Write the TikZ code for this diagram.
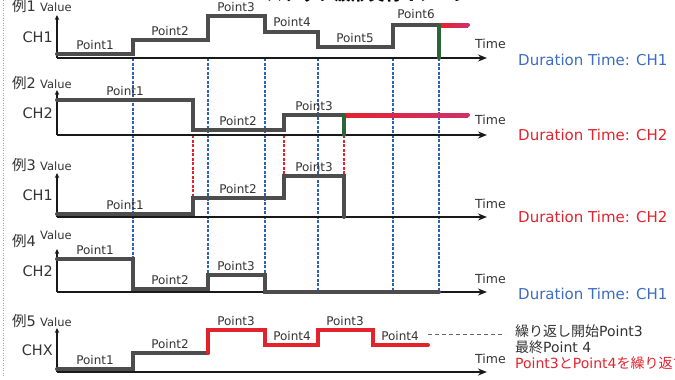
\documentclass[tikz,border=0pt]{standalone}
\usepackage{fontspec}
\setmainfont{DejaVu Sans}
\newfontfamily\jp{Noto Sans CJK JP}
\usetikzlibrary{arrows.meta}
\definecolor{wave}{HTML}{4D4D4D}
\definecolor{rd}{HTML}{E2232E}
\definecolor{rdd}{HTML}{CC2430}
\definecolor{rdp}{HTML}{D0306A}
\definecolor{gr}{HTML}{2C6638}
\definecolor{bl}{HTML}{2F5FBF}
\definecolor{durblue}{HTML}{3B6CC0}
\definecolor{txt}{HTML}{333333}
\tikzset{
  yax/.style={line width=1.6pt,black!90,-{Stealth[length=5pt,width=4.5pt]}},
  xax/.style={line width=1.6pt,black!90,-{Stealth[length=9pt,width=7pt]}},
  wv/.style={line width=4pt,wave,line cap=round},
  rw/.style={line width=4pt,rd,line cap=round},
  gw/.style={line width=4pt,gr,line cap=round},
  bdash/.style={bl,line width=1.1pt,dash pattern=on 3pt off 1.5pt},
  rdash/.style={rd,line width=1.1pt,dash pattern=on 3pt off 1.5pt},
  plab/.style={font=\fontsize{12}{12}\selectfont,text=txt,anchor=base,inner sep=0pt},
  ex/.style={font=\fontsize{14.5}{14.5}\selectfont,text=txt,anchor=base west,inner sep=0pt},
  val/.style={font=\fontsize{11.5}{11.5}\selectfont,text=txt,anchor=base west,inner sep=0pt},
  ch/.style={font=\fontsize{14.5}{14.5}\selectfont,text=txt,anchor=base east,inner sep=0pt},
  tm/.style={font=\fontsize{12.5}{12.5}\selectfont,text=txt,anchor=base west,inner sep=0pt},
  dur/.style={font=\fontsize{15}{15}\selectfont,anchor=base west,inner sep=0pt},
  note/.style={font=\fontsize{14}{14}\selectfont,anchor=base west,inner sep=0pt},
}
\begin{document}
\begin{tikzpicture}[x=1pt,y=-1pt]
\useasboundingbox (0,0) rectangle (675,380);
\clip (0,0) rectangle (675,380);
% left dotted border
\draw[gray!70,line width=0.9pt,dash pattern=on 1pt off 1.5pt] (3,0) -- (3,376);
% clipped title
\node[font=\jp\bfseries\fontsize{17}{17}\selectfont,anchor=base,inner sep=0pt] (title) at (368,1) {ステップ波形実行イメージ};

% ---------- guide lines ----------
\foreach \x in {133,208,265,318,393,439} \draw[bdash] (\x,58) -- (\x,292);
\draw[rdash] (193,135) -- (193,198);
\draw[rdash] (284,135) -- (284,176);
\draw[rdash] (344,135) -- (344,176);

% ---------- Panel 1 ----------
\coordinate (o1) at (57,58);
\coordinate (y1) at (57,15);
\coordinate (x1) at (487,58);
\draw[yax] (o1) -- (y1);
\draw[xax] (o1) -- (x1);
\node[ex] (e1) at (12,12) {{\jp 例}1};
\node[val] (v1) at (40,12) {Value};
\node[ch] (c1) at (53,42) {CH1};
\node[tm] (t1) at (475,48) {Time};
\draw[wv] (57,54) -- (133,54) -- (133,40) -- (208,40) -- (208,16) -- (265,16) -- (265,32) -- (318,32) -- (318,47) -- (393,47) -- (393,25) -- (439,25);
\shade[left color=rd,right color=rdp] (439,23) rectangle (468,27);
\fill[rdp] (468,25) circle (2pt);
\draw[gw] (439,25) -- (439,58);
\node[plab] (p11) at (95,49) {Point1};
\node[plab] (p12) at (170,35) {Point2};
\node[plab] (p13) at (236,11) {Point3};
\node[plab] (p14) at (292,27) {Point4};
\node[plab] (p15) at (355,42) {Point5};
\node[plab] (p16) at (416,19) {Point6};
\node[dur,text=durblue] (d1) at (518,65) {Duration Time: CH1};

% ---------- Panel 2 ----------
\coordinate (o2) at (57,135);
\coordinate (y2) at (57,90);
\coordinate (x2) at (487,135);
\draw[yax] (o2) -- (y2);
\draw[xax] (o2) -- (x2);
\node[ex] (e2) at (12,88) {{\jp 例}2};
\node[val] (v2) at (40,88) {Value};
\node[ch] (c2) at (53,118) {CH2};
\node[tm] (t2) at (475,124) {Time};
\draw[wv] (57,100) -- (193,100) -- (193,130) -- (284,130) -- (284,115) -- (344,115);
\shade[left color=rd,middle color=rdd,right color=rdp] (344,113) rectangle (468,117);
\fill[rdp] (468,115) circle (2pt);
\draw[gw] (344,115) -- (344,135);
\node[plab] (p21) at (125,95) {Point1};
\node[plab] (p22) at (238,125) {Point2};
\node[plab] (p23) at (314,110) {Point3};
\node[dur,text=rd] (d2) at (518,140) {Duration Time: CH2};

% ---------- Panel 3 ----------
\coordinate (o3) at (57,217);
\coordinate (y3) at (57,173);
\coordinate (x3) at (487,217);
\draw[yax] (o3) -- (y3);
\draw[xax] (o3) -- (x3);
\node[ex] (e3) at (12,170) {{\jp 例}3};
\node[val] (v3) at (40,170) {Value};
\node[ch] (c3) at (53,200) {CH1};
\node[tm] (t3) at (475,208) {Time};
\draw[wv] (57,214) -- (193,214) -- (193,198) -- (284,198) -- (284,176) -- (344,176) -- (344,217);
\node[plab] (p31) at (125,209) {Point1};
\node[plab] (p32) at (238,193) {Point2};
\node[plab] (p33) at (314,171) {Point3};
\node[dur,text=rd] (d3) at (518,222) {Duration Time: CH2};

% ---------- Panel 4 ----------
\coordinate (o4) at (57,292);
\coordinate (y4) at (57,249);
\coordinate (x4) at (487,292);
\draw[yax] (o4) -- (y4);
\draw[xax] (o4) -- (x4);
\node[ex] (e4) at (12,246) {{\jp 例}4};
\node[val] (v4) at (40,239) {Value};
\node[ch] (c4) at (53,276) {CH2};
\node[tm] (t4) at (475,283) {Time};
\draw[wv] (57,259) -- (133,259) -- (133,289) -- (208,289) -- (208,275) -- (265,275) -- (265,292) -- (439,292);
\node[plab] (p41) at (95,254) {Point1};
\node[plab] (p42) at (170,284) {Point2};
\node[plab] (p43) at (236,270) {Point3};
\node[dur,text=durblue] (d4) at (518,299) {Duration Time: CH1};

% ---------- Panel 5 ----------
\coordinate (o5) at (57,372);
\coordinate (y5) at (57,328);
\coordinate (x5) at (487,372);
\draw[yax] (o5) -- (y5);
\draw[xax] (o5) -- (x5);
\node[ex] (e5) at (12,326) {{\jp 例}5};
\node[val] (v5) at (40,326) {Value};
\node[ch] (c5) at (53,355) {CHX};
\node[tm] (t5) at (475,363) {Time};
\draw[wv] (57,369) -- (133,369) -- (133,353) -- (208,353);
\draw[rw] (208,353) -- (208,330) -- (265,330) -- (265,345) -- (318,345) -- (318,330) -- (373,330) -- (373,345) -- (428,345);
\node[plab] (p51) at (95,364) {Point1};
\node[plab] (p52) at (170,348) {Point2};
\node[plab] (p53) at (236,325) {Point3};
\node[plab] (p54) at (292,340) {Point4};
\node[plab] (p55) at (345,325) {Point3};
\node[plab] (p56) at (400,340) {Point4};
\coordinate (n0) at (428,334);
\coordinate (n1) at (505,334);
\draw[gray!80!black,line width=0.9pt,dash pattern=on 4pt off 3pt] (n0) -- (n1);
\node[note,text=txt] (a1) at (515,336) {{\jp 繰り返し開始}Point3};
\node[note,text=txt] (a2) at (515,352) {{\jp 最終}Point 4};
\node[note,text=rd] (a3) at (515,368) {Point3{\jp と}Point4{\jp を繰り返す}};
\end{tikzpicture}
\end{document}
